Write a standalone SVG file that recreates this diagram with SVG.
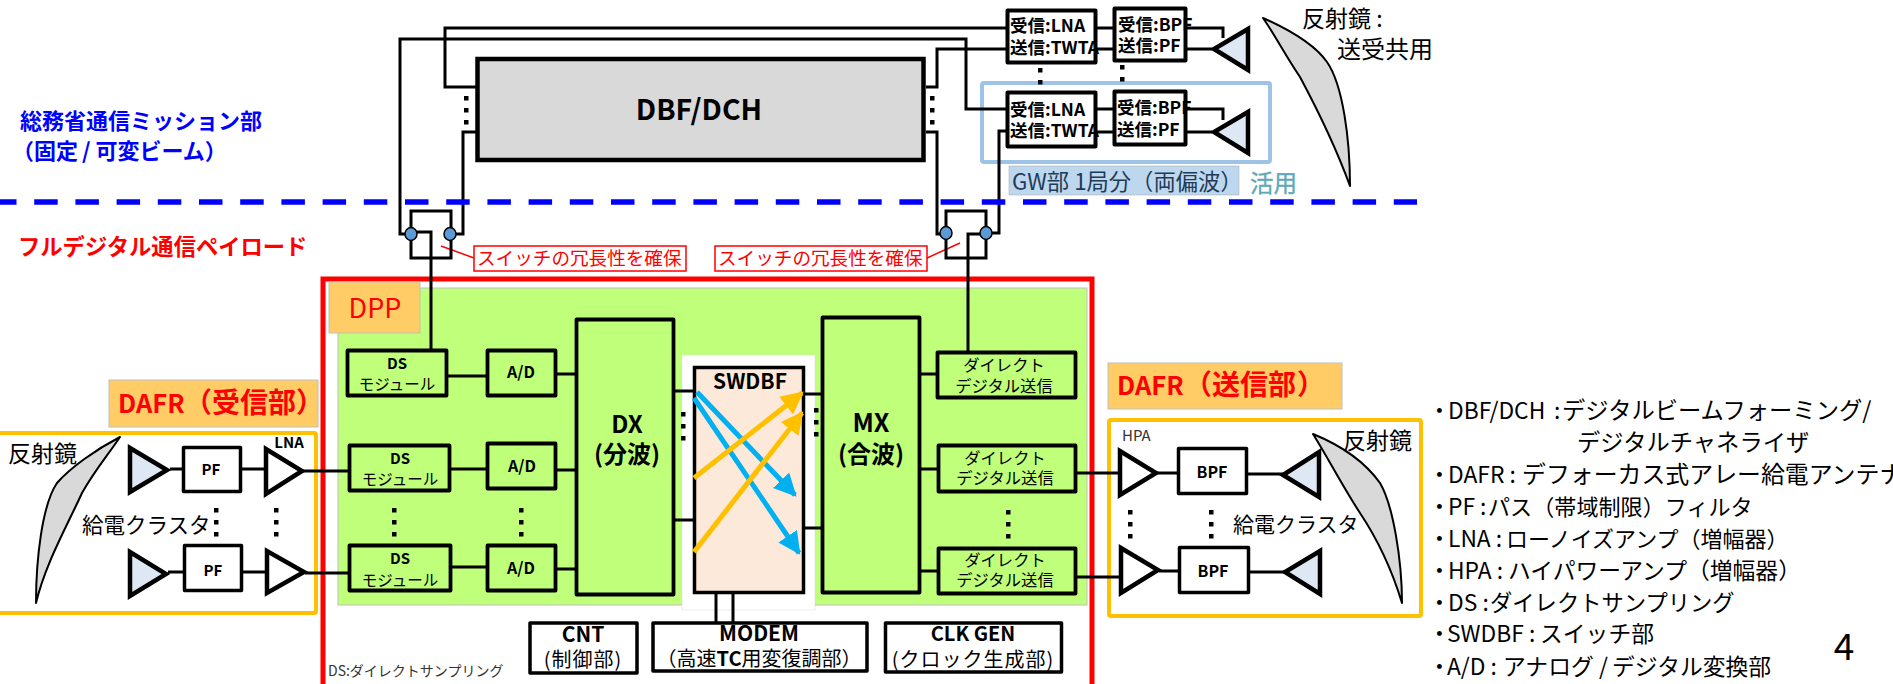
<svg xmlns="http://www.w3.org/2000/svg" width="1893" height="684" viewBox="0 0 1893 684">
<style>
text{font-family:"Noto Sans CJK JP","Noto Sans",sans-serif;fill:#000}
.b{font-weight:700}
.m{text-anchor:middle}
.box{fill:#fff;stroke:#000;stroke-width:4;stroke-linejoin:round}
.gbox{fill:#BFFF7A;stroke:#000;stroke-width:3.8;stroke-linejoin:round}
.wbox{fill:#fff;stroke:#000;stroke-width:3.5;stroke-linejoin:round}
.line{fill:none;stroke:#000;stroke-width:3}
.tri{stroke:#000;stroke-width:4.500;stroke-linejoin:miter}
.bt{fill:#DEE8F4}
.wt{fill:#fff}
.mir{fill:#D9D9D9;stroke:#000;stroke-width:2;stroke-linejoin:round}
.tag{fill:#FFCC66;stroke:#BFBFBF;stroke-width:1}
.ann{fill:#fff;stroke:#FF0000;stroke-width:1.500}
.dot{fill:#000}
.gray{fill:#333}
.leg{font-size:22.800px}
.rd{fill:#FF0000}
.bl{fill:#0000FF}
</style>
<defs>
<marker id="ab" viewBox="0 0 10 10" refX="9" refY="5" markerWidth="4.500" markerHeight="4.500" orient="auto"><path d="M0,0L10,5L0,10Z" fill="#00B0F0"/></marker>
<marker id="ay" viewBox="0 0 10 10" refX="9" refY="5" markerWidth="4.500" markerHeight="4.500" orient="auto"><path d="M0,0L10,5L0,10Z" fill="#FFC000"/></marker>
<g id="d3"><rect class="dot" x="-2" y="-2" width="4.500" height="4.500"/><rect class="dot" x="-2" y="10" width="4.500" height="4.500"/><rect class="dot" x="-2" y="22" width="4.500" height="4.500"/></g>
</defs>

<g id="regions">
<rect x="338" y="288" width="749" height="317" fill="#BFFF7A" stroke="#BFBFBF" stroke-width="1"/>
<rect x="-3" y="433" width="319" height="180" rx="2" fill="#fff" stroke="#FFC000" stroke-width="4"/>
<rect x="1109" y="420" width="312" height="196" rx="2" fill="#fff" stroke="#FFC000" stroke-width="4"/>
<rect x="682" y="355" width="133" height="255" fill="#fff" stroke="#D9D9D9" stroke-width="0.500"/>
<path d="M323,700V279H1092V700" fill="none" stroke="#FF0000" stroke-width="5"/>
<rect x="982" y="83" width="288" height="79" rx="2" fill="none" stroke="#9DC3E6" stroke-width="4"/>
</g>

<g id="connectors">
<path class="line" d="M1007,28H445V87H477"/>
<path class="line" d="M1007,109H966V39H400V234H411"/>
<path class="line" d="M477,132H463V234H450"/>
<path class="line" d="M1007,49H937V87H926"/>
<path class="line" d="M926,132H937V234H946"/>
<path class="line" d="M1007,131H999V233H986"/>
<path class="line" d="M411,232H431V349"/>
<path class="line" d="M986,234H968V352"/>
<path class="line" d="M1097,28H1113M1097,49H1113M1097,109H1113M1097,132H1113"/>
<path class="line" d="M1187,28H1223V38M1187,49H1212M1187,109H1223V120M1187,132H1212"/>
<path class="line" d="M170,469H182M242,469H264M168,572H183M243,572H265"/>
<path class="line" d="M303,471H348M305,573H348"/>
<path class="line" d="M448,376H486M451,469H486M452,567H486"/>
<path class="line" d="M557,374H576M557,470H576M557,569H576"/>
<path class="line" d="M675,391H693M675,520H693M805,394H825M805,528H821"/>
<path class="line" d="M921,374H936M921,469H937M921,571H937"/>
<path class="line" d="M1077,473H1118M1077,577H1119"/>
<path class="line" d="M1157,473H1177M1248,474H1283M1159,571H1178M1250,572H1285"/>
<path class="line" d="M716,594V622M733,594V622"/>
<path d="M441,246L474,258M927,258L960,243" fill="none" stroke="#FF0000" stroke-width="1.500"/>
</g>
<line id="divider" x1="-7" y1="202" x2="1417" y2="202" stroke="#0000FF" stroke-width="5.500" stroke-dasharray="23.500 17.700"/>

<g id="left-labels">
<text x="20" y="129" class="b bl" font-size="22">総務省通信ミッション部</text>
<text x="12" y="159" class="b bl" font-size="22">（固定<tspan dx="4">/</tspan><tspan dx="5">可変ビーム）</tspan></text>
<text x="18" y="255" class="b rd" font-size="22.300">フルデジタル通信ペイロード</text>
</g>

<g id="switch-left">
<rect x="411" y="211" width="40" height="47" fill="none" stroke="#000" stroke-width="3"/>
<ellipse cx="411" cy="234" rx="6" ry="6.500" fill="#5B9BD5" stroke="#000" stroke-width="1.500"/>
<ellipse cx="450" cy="234" rx="6" ry="6.500" fill="#5B9BD5" stroke="#000" stroke-width="1.500"/>
</g>
<g id="switch-right">
<rect x="946" y="211" width="40" height="47" fill="none" stroke="#000" stroke-width="3"/>
<ellipse cx="946" cy="233" rx="6" ry="6.500" fill="#5B9BD5" stroke="#000" stroke-width="1.500"/>
<ellipse cx="986" cy="233" rx="6" ry="6.500" fill="#5B9BD5" stroke="#000" stroke-width="1.500"/>
</g>
<g id="note-left"><rect class="ann" x="474" y="246" width="212" height="25"/><text x="477" y="265" font-size="18.600" class="rd">スイッチの冗長性を確保</text></g>
<g id="note-right"><rect class="ann" x="715" y="246" width="212" height="25"/><text x="718" y="265" font-size="18.600" class="rd">スイッチの冗長性を確保</text></g>

<g id="dbf"><rect x="477.500" y="59" width="446" height="101" fill="#D9D9D9" stroke="#000" stroke-width="4.500"/><text x="699" y="120" class="b m" font-size="28.500">DBF/DCH</text></g>
<use href="#d3" x="466" y="98"/>
<use href="#d3" x="932" y="98"/>

<g id="gw">
<rect x="1009" y="166" width="230" height="29" fill="#BDD7EE" stroke="#A6A6A6" stroke-width="0.500"/>
<text x="1012" y="190" font-size="22.300" style="fill:#1F3B57">GW部 1局分（両偏波）</text>
<text x="1250" y="192" font-size="23.500" stroke="#5FA9B8" stroke-width="0.400" style="fill:#5FA9B8">活用</text>
</g>
<g id="twta1"><rect class="box" x="1007.500" y="10.500" width="88" height="52"/><text x="1010" y="32" class="b" font-size="17.500">受信:LNA</text><text x="1010" y="54" class="b" font-size="17.500">送信:TWTA</text></g>
<g id="bpf1"><rect class="box" x="1114.500" y="8.500" width="71" height="52"/><text x="1118" y="31" class="b" font-size="17.500">受信:BPF</text><text x="1118" y="52" class="b" font-size="17.500">送信:PF</text></g>
<g id="twta2"><rect class="box" x="1007.500" y="92.500" width="88" height="54"/><text x="1010" y="116" class="b" font-size="17.500">受信:LNA</text><text x="1010" y="137" class="b" font-size="17.500">送信:TWTA</text></g>
<g id="bpf2"><rect class="box" x="1114.500" y="91.500" width="71" height="53"/><text x="1117" y="114" class="b" font-size="17.500">受信:BPF</text><text x="1117" y="136" class="b" font-size="17.500">送信:PF</text></g>
<g id="ant-top"><polygon class="tri bt" points="1248,29 1248,70 1214,49"/><polygon class="tri bt" points="1248,112 1248,153 1214,132"/></g>
<rect class="dot" x="1038" y="68" width="4.500" height="4.500"/><rect class="dot" x="1038" y="80" width="4.500" height="4.500"/>
<rect class="dot" x="1120" y="65" width="4.500" height="4.500"/><rect class="dot" x="1120" y="77" width="4.500" height="4.500"/>
<g id="mirror-top"><path class="mir" d="M1263,18C1290,30 1315,45 1327,62C1343,85 1350,140 1350,186C1335,145 1315,105 1300,77C1285,55 1275,35 1263,18Z"/>
<text x="1302" y="27" font-size="23">反射鏡 :</text><text x="1337" y="58" font-size="24">送受共用</text></g>

<g id="dpp-tag"><rect class="tag" x="329" y="282" width="91" height="51"/><text x="375" y="318" class="m rd" font-size="27">DPP</text></g>
<g id="dafr-rx-tag"><rect class="tag" x="109" y="380" width="209" height="47"/><text y="413" class="b rd" font-size="28"><tspan x="118" font-size="25.500">DAFR</tspan><tspan x="184">（</tspan><tspan x="212">受信部</tspan><tspan x="296">）</tspan></text></g>
<g id="dafr-tx-tag"><rect class="tag" x="1108" y="363" width="234" height="46"/><text y="395" class="b rd" font-size="28"><tspan x="1117" font-size="25.500">DAFR</tspan><tspan x="1184">（</tspan><tspan x="1212">送信部</tspan><tspan x="1297">）</tspan></text></g>

<g id="rx-cluster">
<path class="mir" d="M120,437C95,450 70,468 57,483C42,505 36,560 36,603C45,565 65,530 82,493C95,470 108,455 120,437Z"/>
<text x="8" y="462" font-size="23">反射鏡</text>
<text x="82" y="533" font-size="21.500">給電クラスタ</text>
<polygon class="tri bt" points="130,448 130,492 167,470"/>
<polygon class="tri bt" points="130,552 130,596 166,574"/>
<rect class="wbox" x="183.500" y="447.500" width="57" height="44"/><text x="211" y="475" class="b m" font-size="15">PF</text>
<rect class="wbox" x="184.500" y="545.500" width="57" height="45"/><text x="213" y="576" class="b m" font-size="15">PF</text>
<polygon class="tri wt" points="266,449 266,494 302,471"/>
<polygon class="tri wt" points="267,551 267,593 304,572"/>
<text x="289" y="448" class="b m" font-size="15">LNA</text>
<use href="#d3" x="216" y="510"/><use href="#d3" x="276" y="510"/>
</g>

<g id="ds1"><rect class="gbox" x="347.500" y="350.500" width="99" height="45"/><text x="397" y="369" class="b m" font-size="15">DS</text><text x="397" y="390" class="m" font-size="15.500">モジュール</text></g>
<g id="ds2"><rect class="gbox" x="349.500" y="445.500" width="100" height="45"/><text x="400" y="464" class="b m" font-size="15">DS</text><text x="400" y="485" class="m" font-size="15.500">モジュール</text></g>
<g id="ds3"><rect class="gbox" x="349.500" y="545.500" width="101" height="45"/><text x="400" y="564" class="b m" font-size="15">DS</text><text x="400" y="586" class="m" font-size="15.500">モジュール</text></g>
<g id="ad1"><rect class="gbox" x="487.500" y="350.500" width="68" height="45"/><text x="521" y="378" class="b m" font-size="16">A/D</text></g>
<g id="ad2"><rect class="gbox" x="487.500" y="443.500" width="68" height="45"/><text x="522" y="472" class="b m" font-size="16">A/D</text></g>
<g id="ad3"><rect class="gbox" x="487.500" y="545.500" width="68" height="45"/><text x="521" y="574" class="b m" font-size="16">A/D</text></g>
<use href="#d3" x="394" y="510"/><use href="#d3" x="521" y="510"/>

<g id="dx"><rect class="gbox" x="576.500" y="319.500" width="97" height="275"/><text x="627" y="433" class="b m" font-size="24">DX</text><text x="627" y="463" class="b m" font-size="24">(分波)</text></g>
<use href="#d3" x="683" y="414"/>
<g id="swdbf"><rect x="694.500" y="367.500" width="109" height="225" fill="#FDE9D9" stroke="#000" stroke-width="3.500"/><text x="750" y="389" class="b m" font-size="21">SWDBF</text></g>
<g id="mx"><rect class="gbox" x="822.500" y="317.500" width="97" height="275"/><text x="871" y="432" class="b m" font-size="25">MX</text><text x="871" y="463" class="b m" font-size="24">(合波)</text></g>
<use href="#d3" x="816" y="410"/>
<g id="sw-arrows" fill="none" stroke-width="5">
<line x1="697" y1="392" x2="795" y2="495" stroke="#00B0F0" marker-end="url(#ab)"/>
<line x1="694" y1="398" x2="799" y2="553" stroke="#00B0F0" marker-end="url(#ab)"/>
<line x1="694" y1="478" x2="802" y2="393" stroke="#FFC000" marker-end="url(#ay)"/>
<line x1="694" y1="552" x2="802" y2="413" stroke="#FFC000" marker-end="url(#ay)"/>
</g>

<g id="tx1"><rect class="gbox" x="937.500" y="352.500" width="138" height="45"/><text x="1004" y="371" class="m" font-size="16.300">ダイレクト</text><text x="1004" y="392" class="m" font-size="16.300">デジタル送信</text></g>
<g id="tx2"><rect class="gbox" x="938.500" y="445.500" width="137" height="46"/><text x="1005" y="464" class="m" font-size="16.300">ダイレクト</text><text x="1005" y="484" class="m" font-size="16.300">デジタル送信</text></g>
<g id="tx3"><rect class="gbox" x="938.500" y="548.500" width="137" height="45"/><text x="1005" y="566" class="m" font-size="16.300">ダイレクト</text><text x="1005" y="586" class="m" font-size="16.300">デジタル送信</text></g>
<use href="#d3" x="1008" y="512"/>

<g id="cnt"><rect class="wbox" x="530" y="623" width="107" height="50"/><text x="583" y="642" class="b m" font-size="21">CNT</text><text x="583" y="667" class="m" font-size="20" letter-spacing="1">(制御部)</text></g>
<g id="modem"><rect class="wbox" x="653" y="623" width="214" height="48"/><text x="759" y="641" class="b m" font-size="21">MODEM</text><text x="759" y="666" class="m" font-size="20">（高速<tspan class="b">TC</tspan>用変復調部）</text></g>
<g id="clk"><rect class="wbox" x="885.500" y="623" width="176" height="49"/><text x="973" y="641" class="b m" font-size="20">CLK GEN</text><text x="973" y="667" class="m" font-size="20" letter-spacing="1">(クロック生成部)</text></g>
<text x="328" y="676" font-size="14" class="gray">DS:ダイレクトサンプリング</text>

<g id="tx-cluster">
<polygon class="tri wt" points="1120,451 1120,495 1156,473"/>
<polygon class="tri wt" points="1121,548 1121,593 1158,570"/>
<text x="1122" y="441" font-size="15" class="gray">HPA</text>
<rect class="wbox" x="1178.500" y="448.500" width="68" height="45"/><text x="1212" y="478" class="b m" font-size="16">BPF</text>
<rect class="wbox" x="1179.500" y="547.500" width="69" height="45"/><text x="1213" y="577" class="b m" font-size="16">BPF</text>
<polygon class="tri bt" points="1319,452 1319,497 1283,475"/>
<polygon class="tri bt" points="1320,551 1320,594 1285,572"/>
<use href="#d3" x="1130" y="512"/><use href="#d3" x="1211" y="512"/>
<text x="1233" y="532" font-size="21">給電クラスタ</text>
<path class="mir" d="M1313,434C1340,445 1365,462 1380,483C1393,505 1402,560 1402,603C1392,570 1378,540 1360,513C1343,487 1328,458 1313,434Z"/>
<text x="1343" y="449" font-size="23">反射鏡</text>
</g>

<g id="legend">
<text class="leg" y="419"><tspan x="1428">・</tspan><tspan x="1448">DBF/DCH</tspan><tspan x="1549"> :</tspan><tspan x="1562" font-size="23.300">デジタルビームフォーミング/</tspan></text>
<text class="leg" y="451" x="1577" font-size="23.300" style="font-size:23.300px">デジタルチャネライザ</text>
<text class="leg" y="483"><tspan x="1428">・</tspan><tspan x="1448">DAFR :</tspan><tspan x="1522" font-size="23.900" style="font-size:23.900px">デフォーカス式アレー給電アンテナ</tspan></text>
<text class="leg" y="515"><tspan x="1428">・</tspan><tspan x="1448">PF :</tspan><tspan x="1488" style="font-size:22.100px">パス（帯域制限）フィルタ</tspan></text>
<text class="leg" y="547"><tspan x="1428">・</tspan><tspan x="1448">LNA :</tspan><tspan x="1506" style="font-size:22px">ローノイズアンプ（増幅器）</tspan></text>
<text class="leg" y="579"><tspan x="1428">・</tspan><tspan x="1448">HPA :</tspan><tspan x="1508">ハイパワーアンプ（増幅器）</tspan></text>
<text class="leg" y="611"><tspan x="1428">・</tspan><tspan x="1448">DS :</tspan><tspan x="1490" style="font-size:22.300px">ダイレクトサンプリング</tspan></text>
<text class="leg" y="642"><tspan x="1428">・</tspan><tspan x="1447">SWDBF :</tspan><tspan x="1540">スイッチ部</tspan></text>
<text class="leg" y="675"><tspan x="1428">・</tspan><tspan x="1447">A/D :</tspan><tspan x="1503">アナログ</tspan><tspan x="1599">/</tspan><tspan x="1612">デジタル変換部</tspan></text>
<text x="1844" y="660" class="m" font-size="37">4</text>
</g>
</svg>
